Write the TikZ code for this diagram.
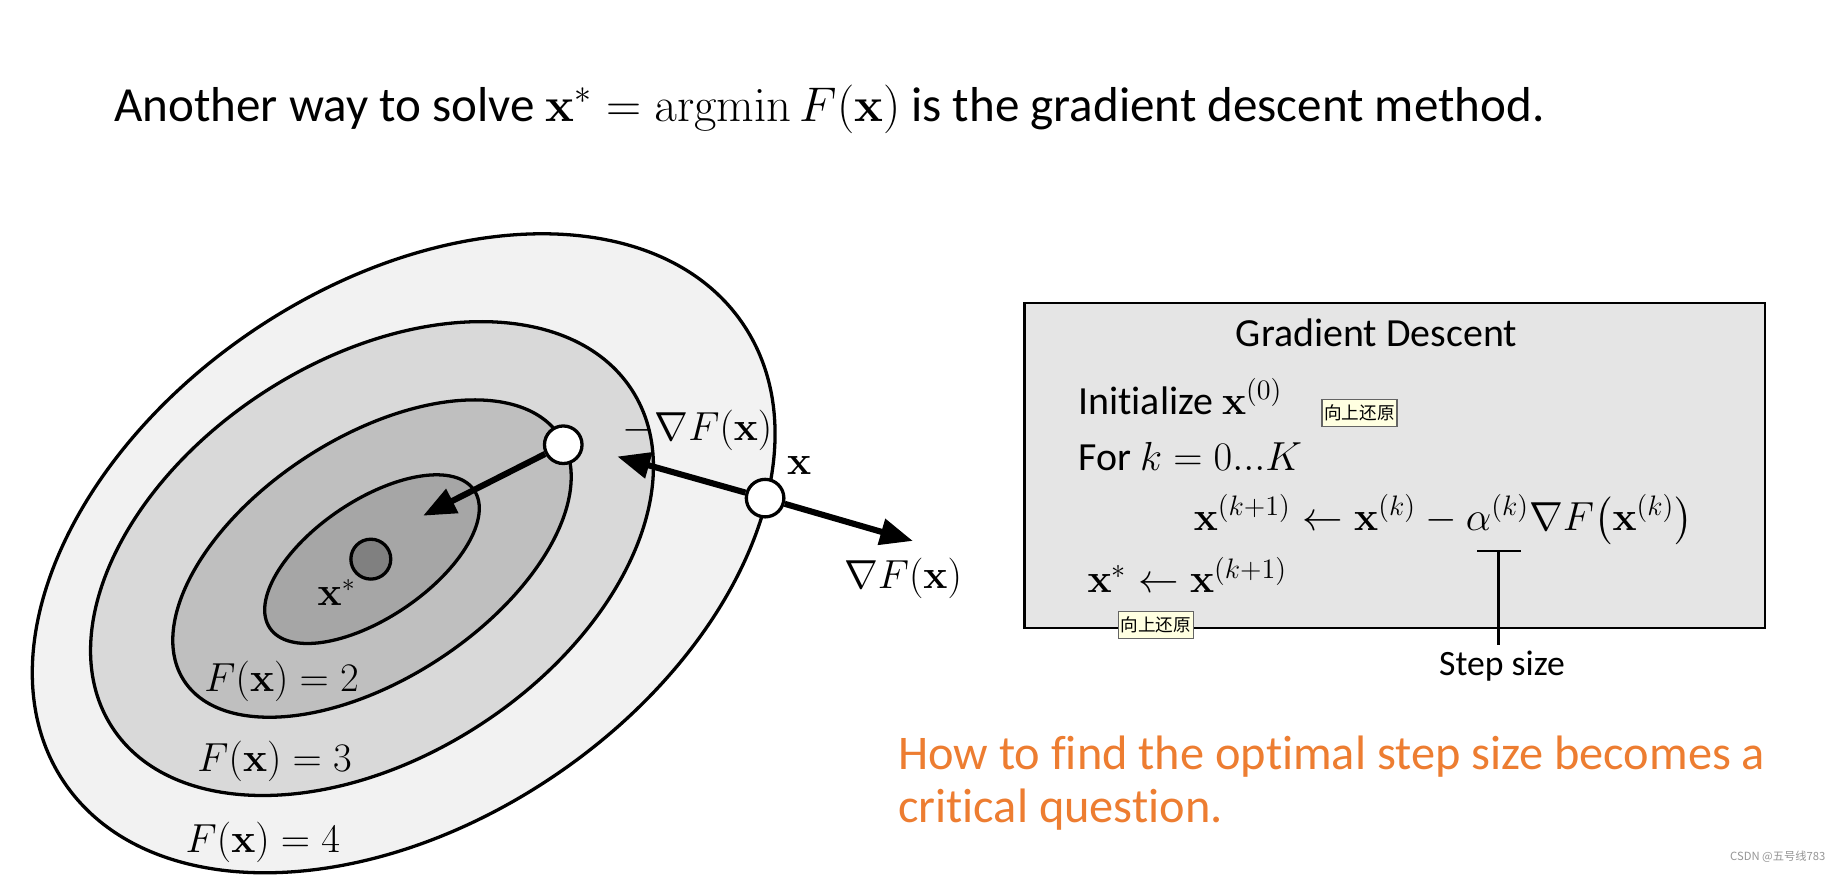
\documentclass[tikz,border=0pt]{standalone}
\usepackage{amsmath,amssymb,bm}
\usepackage[no-math]{fontspec}
\setmainfont{Carlito}[Ligatures={NoCommon}]
\newfontfamily\cjkfont{Noto Sans CJK SC}
\usetikzlibrary{arrows.meta,positioning}
\definecolor{lvlfour}{gray}{0.95}
\definecolor{lvlthree}{gray}{0.85}
\definecolor{lvltwo}{gray}{0.75}
\definecolor{lvlone}{gray}{0.65}
\definecolor{optgray}{gray}{0.5}
\definecolor{panelgray}{gray}{0.9}
\definecolor{noteorange}{RGB}{237,125,49}
\definecolor{tipyellow}{RGB}{255,255,225}
\definecolor{tipborder}{RGB}{100,100,100}
\definecolor{markgray}{RGB}{150,150,150}
\newcommand{\vx}{\mathbf{x}}

\begin{document}
\begin{tikzpicture}[
x=0.5pt,y=-0.5pt,
ring/.style={draw,line width=1.4pt},
dot/.style={circle,draw,line width=1.4pt,minimum size=16pt,inner sep=0pt},
grad/.style={-{Triangle[length=14pt,width=11pt]},line width=2.6pt},
mlbl/.style={inner sep=0pt,font=\fontsize{16}{19}\selectfont},
panel/.style={draw,line width=0.9pt,fill=panelgray,minimum width=315.5pt,minimum height=138.5pt,inner sep=0pt},
boxtxt/.style={inner sep=0pt,font=\fontsize{17}{20}\selectfont},
tip/.style={draw=tipborder,fill=tipyellow,line width=0.5pt,inner sep=1pt,minimum height=11.5pt,font=\cjkfont\fontsize{7.5}{8}\selectfont},
note/.style={inner sep=0pt,anchor=west,text=noteorange,font=\fontsize{20.6}{24}\selectfont},
bar/.style={line width=0.9pt}
]
\fill[white] (0,0) rectangle (1568,747);
\useasboundingbox (0,0) rectangle (1568,747);
\node[inner sep=0pt,anchor=west,font=\fontsize{20.9}{24}\selectfont] (title) at (97,93)
  {Another way to solve $\vx^{*} = \mathop{\mathrm{argmin}} F(\vx)$ is the gradient descent method.};
% level sets
\draw[ring,fill=lvlfour,rotate around={34:(344,471.5)}] (344,471.5) ellipse (349 and 229);
\draw[ring,fill=lvlthree,rotate around={33:(317,476)}] (317,476) ellipse (264 and 169);
\draw[ring,fill=lvltwo,rotate around={33:(317,476)}] (317,476) ellipse (191 and 103);
\draw[ring,fill=lvlone,rotate around={34:(317,476.5)}] (317,476.5) ellipse (105 and 50);
\node[dot,fill=optgray,minimum size=17pt] (opt) at (316,476.5) {};
\node[dot,fill=white] (p1) at (480,379) {};
\node[dot,fill=white] (p2) at (652,424.5) {};
\coordinate (t1) at (360.5,439.5);
\coordinate (t2) at (526,389);
\coordinate (t3) at (778,461);
\draw[grad] (p1) -- (t1);
\draw[grad] (p2) -- (t2);
\draw[grad] (p2) -- (t3);
\node[mlbl] (ngrad) at (594.5,366.5) {$-\nabla F(\vx)$};
\node[mlbl] (xlbl) at (681,397) {$\vx$};
\node[mlbl] (pgrad) at (769.5,493) {$\nabla F(\vx)$};
\node[mlbl] (xstar) at (287,505) {$\vx^{*}$};
\node[mlbl] (f2) at (240,580.5) {$F(\vx) = 2$};
\node[mlbl] (f3) at (234,648.5) {$F(\vx) = 3$};
\node[mlbl] (f4) at (224,718) {$F(\vx) = 4$};
% algorithm panel
\node[panel] (gd) at (1188.5,396.5) {};
\node[boxtxt] (head) at (1173,283.5) {Gradient Descent};
\node[boxtxt,anchor=west] (init) at (918.5,338) {Initialize $\vx^{(0)}$};
\node[boxtxt,anchor=west] (loop) at (918.5,389) {For $k = 0...K$};
\node[boxtxt,anchor=west] (upd) at (1017,443)
  {$\vx^{(k+1)} \leftarrow \vx^{(k)} - \alpha^{(k)}\nabla F\bigl(\vx^{(k)}\bigr)$};
\node[boxtxt,anchor=west] (res) at (926.5,490) {$\vx^{*} \leftarrow \vx^{(k+1)}$};
\node[tip] (tip1) at (1158.5,352) {向上还原};
\node[tip] (tip2) at (985,532.7) {向上还原};
\coordinate (sl) at (1259,469.5);
\coordinate (sr) at (1296,469.5);
\coordinate (sm) at (1277,469.5);
\node[inner sep=0pt,font=\fontsize{15.2}{18}\selectfont] (step) at (1280,568) {Step size};
\coordinate (sb) at (1277,549.5);
\draw[bar] (sl) -- (sr);
\draw[bar] (sm) -- (sb);
% remark
\node[note] (q1) at (765,645) {How to find the optimal step size becomes a};
\node[note] (q2) at (765,690) {critical question.};
\node[inner sep=0pt,text=markgray,font=\cjkfont\fontsize{4.8}{6}\selectfont] (mark) at (1515,730) {CSDN @五号线783};
\end{tikzpicture}
\end{document}
